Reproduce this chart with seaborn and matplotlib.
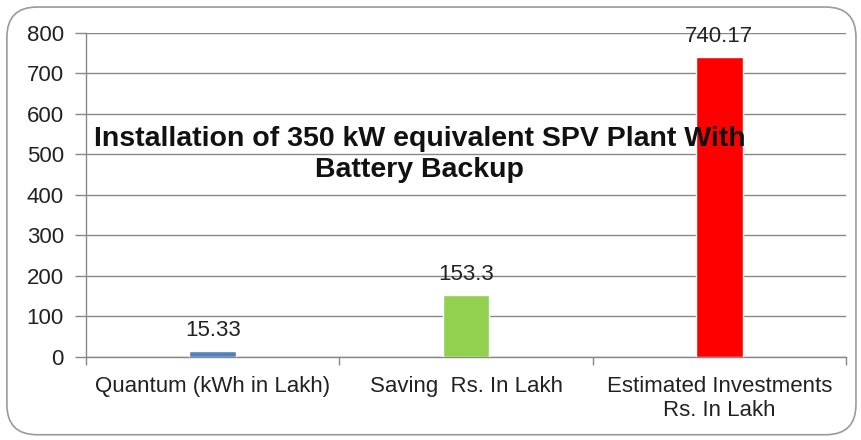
import matplotlib
matplotlib.use("Agg")
import matplotlib.pyplot as plt
import pandas as pd
import seaborn as sns
from matplotlib.patches import FancyBboxPatch

# chart data
categories = ["Quantum (kWh in Lakh)", "Saving  Rs. In Lakh", "Estimated Investments\nRs. In Lakh"]
values = [15.33, 153.3, 740.17]
value_labels = ["15.33", "153.3", "740.17"]
bar_colors = ["#4F81BD", "#92D050", "#FF0000"]
y_ticks = [0, 100, 200, 300, 400, 500, 600, 700, 800]

sns.set_theme(style="white")
plt.rcParams["font.family"] = ["Liberation Sans", "DejaVu Sans"]

df = pd.DataFrame({"category": categories, "value": values})

fig = plt.figure(figsize=(8.62, 4.4), dpi=100)
ax = fig.add_axes([0.0998, 0.189, 0.8817, 0.736])

sns.barplot(data=df, x="category", y="value", hue="category",
            palette=bar_colors, width=0.185, legend=False, ax=ax,
            saturation=1, zorder=3)

# data labels
for cont, lab in zip(ax.containers, value_labels):
    ax.bar_label(cont, labels=[lab], padding=7, fontsize=16, color="#222222")

ax.set_ylim(0, 800)
ax.set_xlim(-0.5, 2.5)
ax.set_yticks(y_ticks)
ax.set_xlabel("")
ax.set_ylabel("")
ax.grid(axis="y", color="#888888", linewidth=1, zorder=0)
ax.set_axisbelow(True)

for s in ["top", "right"]:
    ax.spines[s].set_visible(False)
for s in ["left", "bottom"]:
    ax.spines[s].set_color("#888888")
    ax.spines[s].set_linewidth(1)

ax.tick_params(axis="y", which="major", length=8, width=1, color="#888888",
               labelsize=16, labelcolor="#222222", pad=8, left=True)
ax.tick_params(axis="x", which="major", length=0, labelsize=16,
               labelcolor="#222222", pad=14)
ax.set_xticks([-0.5, 0.5, 1.5, 2.5], minor=True)
ax.tick_params(axis="x", which="minor", length=6, width=1, color="#888888",
               bottom=True)

# title inside the plot area
ax.text(0.439, 0.625, "Installation of 350 kW equivalent SPV Plant With\nBattery Backup",
        transform=ax.transAxes, ha="center", va="center", fontsize=20.5,
        fontweight="bold", color="#111111", linespacing=1.22, zorder=5)

# rounded chart border
border = FancyBboxPatch((0.008, 0.012), 0.985, 0.972,
                        boxstyle="round,pad=0,rounding_size=0.035",
                        transform=fig.transFigure, fill=False,
                        edgecolor="#9a9a9a", linewidth=1.2,
                        mutation_aspect=862 / 440)
fig.patches.append(border)

fig.savefig("out.png", dpi=100)
